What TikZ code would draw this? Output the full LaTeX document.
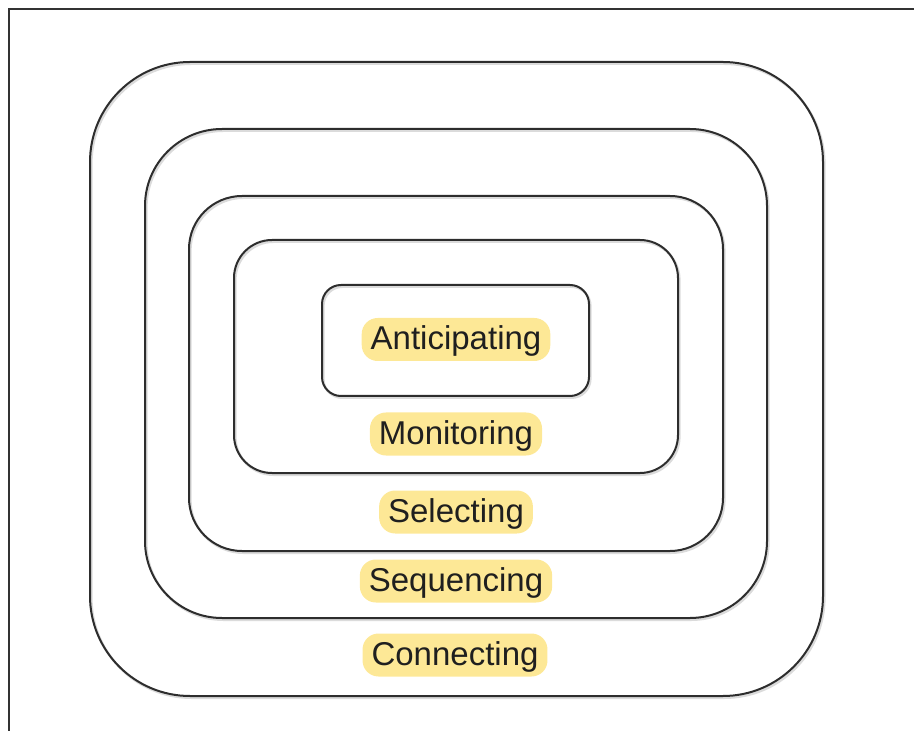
\documentclass[tikz,border=0pt]{standalone}
\usepackage{fontspec}
\setmainfont{Liberation Sans}
\usepackage{xcolor}
\usepackage{tikz}
\usetikzlibrary{positioning}
\definecolor{tagyellow}{RGB}{253,232,150}
\definecolor{ringline}{RGB}{45,45,45}

\begin{document}
\begin{tikzpicture}[
  x=0.5pt, y=-0.5pt,
  ring/.style={draw=ringline, line width=1pt, rectangle, inner sep=0pt,
    preaction={draw=black!14, line width=1.2pt, transform canvas={shift={(0.7pt,-0.9pt)}}}},
  tag/.style={fill=tagyellow, rounded corners=8pt, inner xsep=4.5pt, inner ysep=0pt,
    minimum height=21.5pt, text height=13pt, text depth=2.5pt,
    font=\fontsize{16.5}{20}\selectfont, text=black!88}]
\useasboundingbox (0,0) rectangle (914,731);
\draw[black!80, line width=0.8pt] (9,731) -- (9,9) -- (914,9);
\node[ring, minimum width=366.5pt, minimum height=317pt, rounded corners=50pt] (connring) at (456.5,379) {};
\node[ring, minimum width=311pt, minimum height=244.5pt, rounded corners=38.5pt] (seqring) at (456,373.5) {};
\node[ring, minimum width=267pt, minimum height=177.5pt, rounded corners=26.5pt] (selring) at (456,373.5) {};
\node[ring, minimum width=222pt, minimum height=116.5pt, rounded corners=19pt] (monring) at (456,356.5) {};
\node[ring, minimum width=133.5pt, minimum height=55.5pt, rounded corners=9.5pt] (antring) at (455.5,340.5) {};
\node[tag] (ant) at (456,339.5) {Anticipating};
\node[tag] (mon) at (456,434) {Monitoring};
\node[tag] (sel) at (456,512) {Selecting};
\node[tag] (seq) at (456,581) {Sequencing};
\node[tag] (con) at (455,655) {Connecting};
\end{tikzpicture}
\end{document}
